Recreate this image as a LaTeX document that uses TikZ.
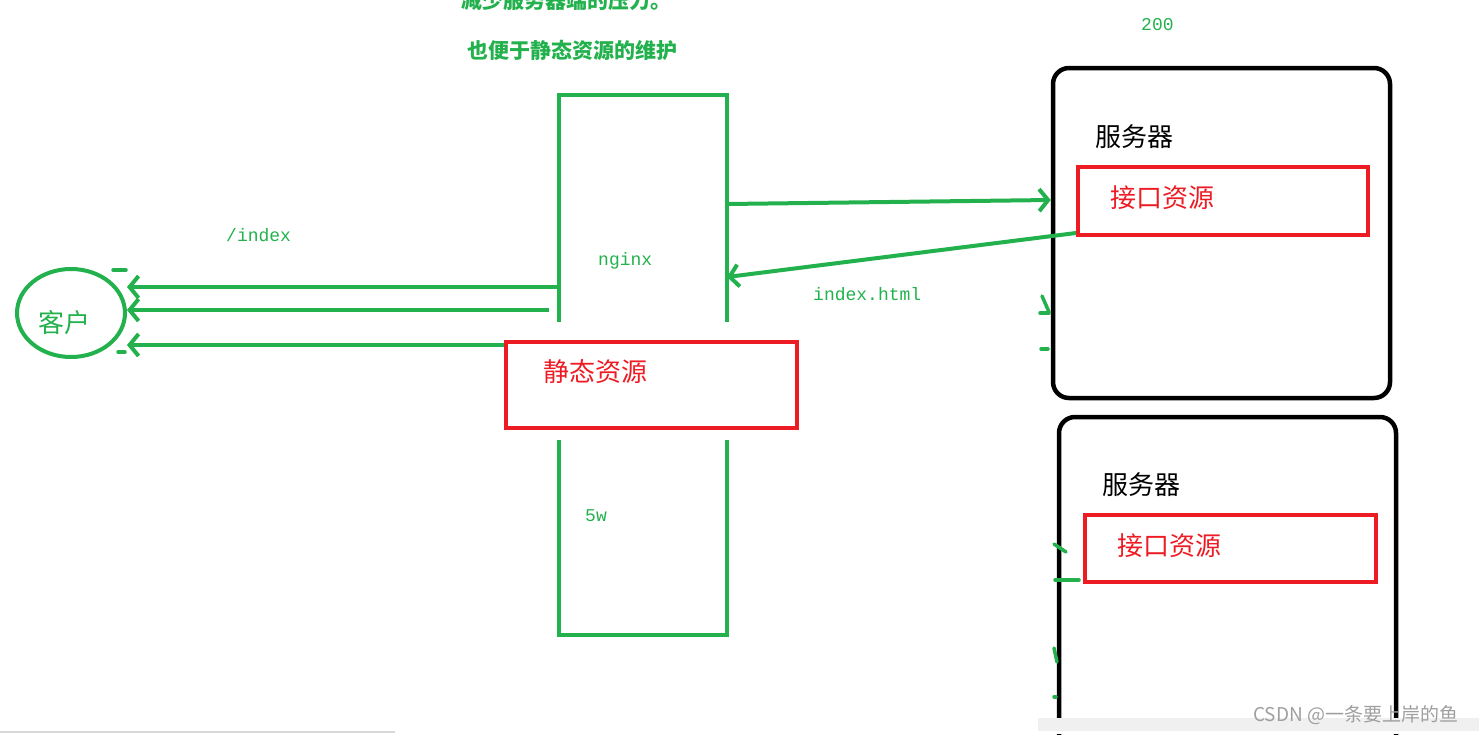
\documentclass[tikz,border=0pt]{standalone}
\usepackage{fontspec}
\setmainfont{Liberation Serif}
\newfontfamily\cjk{Noto Sans CJK SC}
\newfontfamily\codefont{Liberation Mono}
\usepackage{tikz}
\usetikzlibrary{positioning,arrows.meta,shapes.geometric,calc}
\definecolor{paintgreen}{RGB}{34,177,76}
\definecolor{paintred}{RGB}{237,28,36}

\begin{document}
\begin{tikzpicture}[
    x=1pt, y=-1pt,
    gline/.style={draw=paintgreen, line width=4pt},
    garrow/.style={gline, -{Straight Barb[length=9pt, width=22pt, line width=4pt]}},
    stroke/.style={draw=paintgreen, line width=3.5pt, line cap=round},
    redbox/.style={draw=paintred, line width=4pt, inner sep=0pt},
    serverbox/.style={draw=black, line width=4.5pt, rounded corners=16pt, inner sep=0pt},
    codelbl/.style={anchor=west, inner sep=0pt, text=paintgreen, font=\codefont\fontsize{18}{20}\selectfont},
    notelbl/.style={anchor=west, inner sep=0pt, text=paintgreen, font=\cjk\bfseries\fontsize{21}{23}\selectfont},
    biglbl/.style={anchor=west, inner sep=0pt, font=\cjk\fontsize{26}{28}\selectfont}
]
\useasboundingbox (0,0) rectangle (1479,734);

\node[notelbl] (note1) at (461,1) {减少服务器端的压力。};
\node[notelbl] (note2) at (467,50) {也便于静态资源的维护};
\node[codelbl] (code200) at (1141,25) {200};

\node[ellipse, gline, minimum width=108, minimum height=88, inner sep=0pt] (client) at (71,313) {};
\node[biglbl, text=paintgreen] (clientlbl) at (38,323) {客户};

\node[minimum width=168, minimum height=540, inner sep=0pt, outer sep=0pt] (nginx) at (643,365) {};
\draw[gline] (nginx.west |- 0,322) -- (nginx.north west) -- (nginx.north east) -- (nginx.east |- 0,322);
\draw[gline] (nginx.west |- 0,440) -- (nginx.south west) -- (nginx.south east) -- (nginx.east |- 0,440);
\node[codelbl] (nginxlbl) at (598,261) {nginx};
\node[codelbl] (nginxload) at (585,516) {5w};

\node[redbox, minimum width=291, minimum height=86] (static) at (651.5,385) {};
\node[biglbl, text=paintred] (staticlbl) at (543,372) {静态资源};

\node[serverbox, minimum width=337, minimum height=330] (server1) at (1221.5,233) {};
\node[biglbl] (server1lbl) at (1095,137) {服务器};
\node[redbox, minimum width=290, minimum height=68] (api1) at (1223,201) {};
\node[biglbl, text=paintred] (api1lbl) at (1110,198) {接口资源};

\node[serverbox, minimum width=337, minimum height=343] (server2) at (1227.5,588.5) {};
\node[biglbl] (server2lbl) at (1102,485) {服务器};
\node[redbox, minimum width=291, minimum height=67] (api2) at (1230.5,548.5) {};
\node[biglbl, text=paintred] (api2lbl) at (1117,546) {接口资源};

\draw[garrow] (nginx.west |- 0,287) -- (client.east |- 0,287);
\draw[garrow] (549,310) coordinate (back) -- (client.east |- back);
\draw[garrow] (static.west |- 0,345) -- (client.east |- 0,345);
\node[codelbl] (indexlbl) at (226,235) {/index};

\draw[garrow] (nginx.east |- 0,204) -- (server1.west |- 0,200);
\draw[garrow] (api1.west |- 0,233) -- (nginx.east |- 0,277);
\node[codelbl] (htmllbl) at (813,294) {index.html};

\draw[stroke] (113,270) -- (126,270);
\draw[stroke] (118,352) -- (125,352);
\draw[stroke] (1042,296) -- (1049,312);
\draw[stroke] (1040,313) -- (1049,313);
\draw[stroke] (1041,349) -- (1048,349);
\draw[stroke] (1054,544) -- (1066,552);
\draw[stroke] (1055,580) -- (1079,580);
\draw[stroke] (1054,648) -- (1057,662);
\draw[stroke] (1054,697) -- (1056,697);

\fill[white] (1038,718) rectangle (1479,734);
\fill[gray!12] (1038,718) rectangle (1479,731);
\draw[gray!30, line width=1.5pt] (0,732) -- (395,732);
\node[anchor=west, inner sep=0pt, text=gray!75, font=\cjk\fontsize{19}{21}\selectfont] (mark) at (1253,715) {CSDN @一条要上岸的鱼};
\end{tikzpicture}
\end{document}
